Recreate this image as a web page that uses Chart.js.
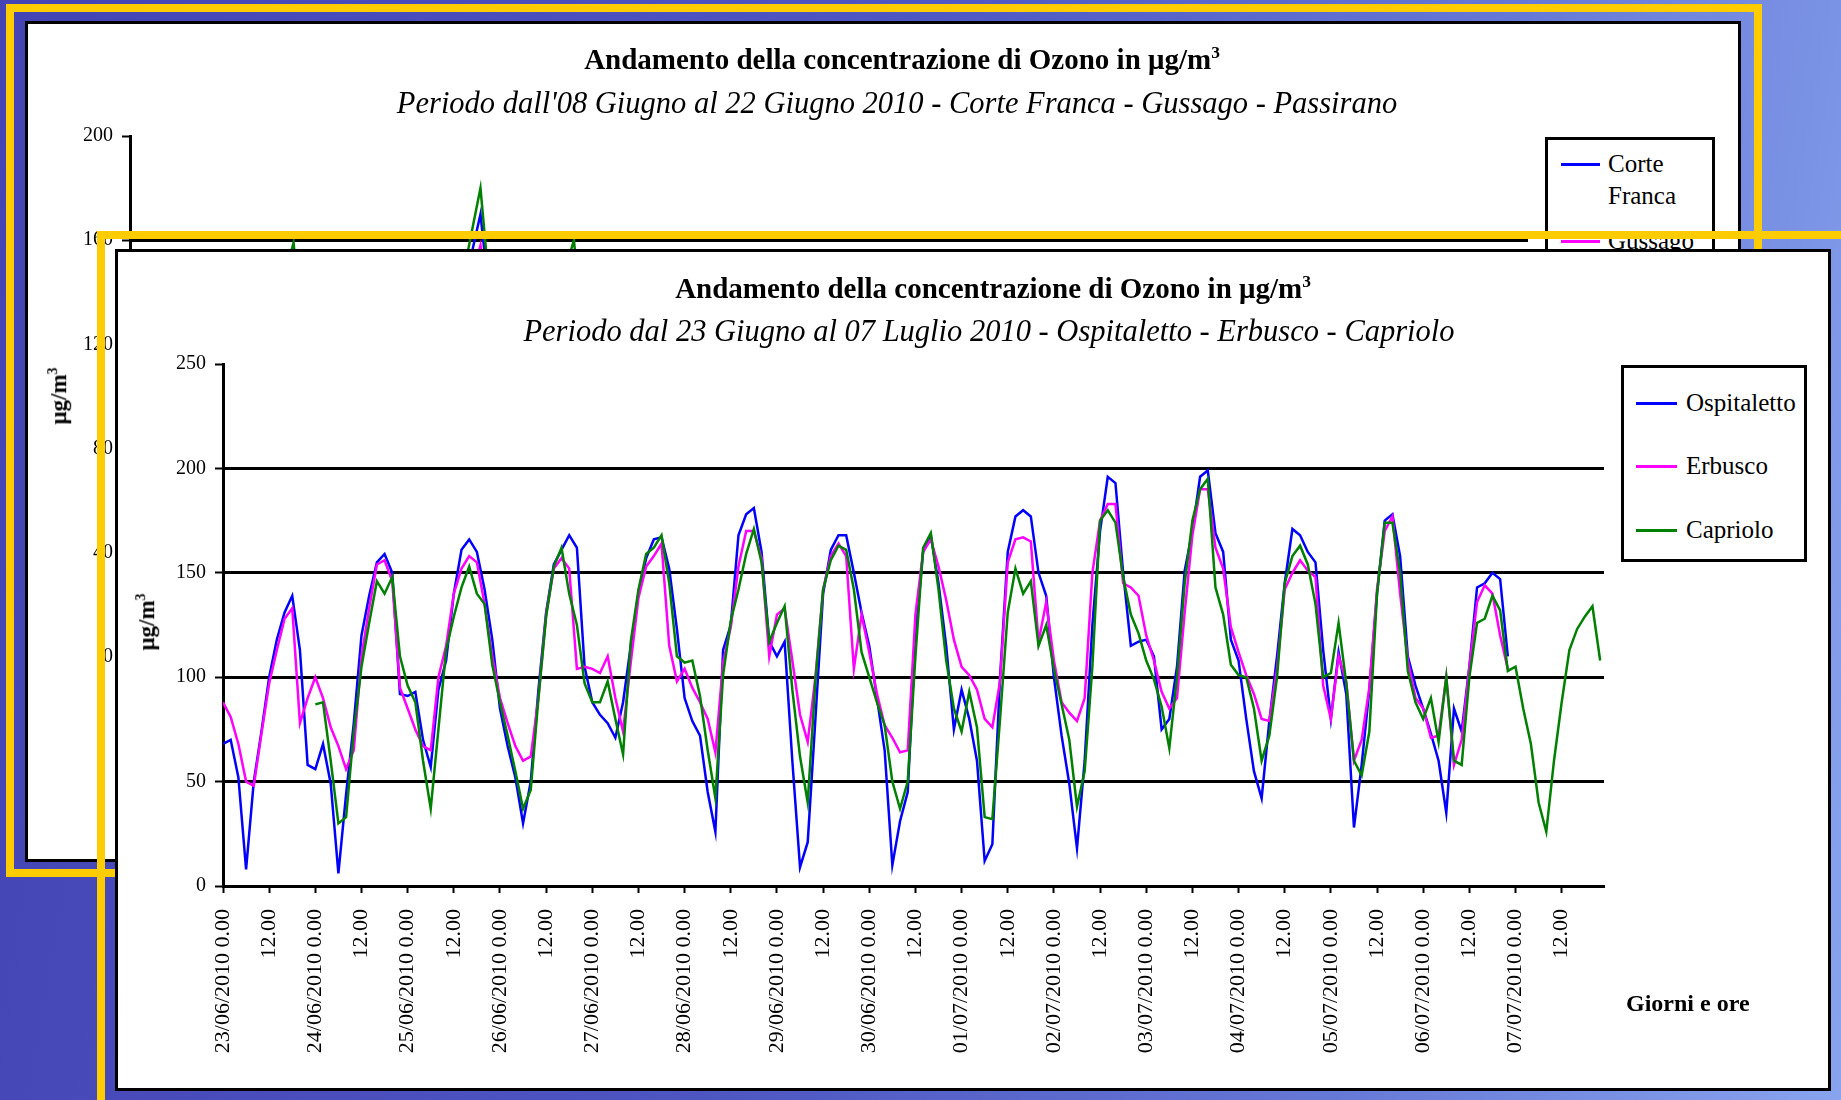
<!DOCTYPE html>
<html>
<head>
<meta charset="utf-8">
<title>Andamento della concentrazione di Ozono</title>
<script src="https://cdn.jsdelivr.net/npm/chart.js"></script>
<style>
  body {
    margin: 0; width: 1841px; height: 1100px; overflow: hidden; position: relative;
    background: linear-gradient(100deg, #4444b4 0%, #4e56c2 45%, #6678d6 75%, #88a4ee 100%);
    font-family: "Liberation Serif", "Times New Roman", serif; color: #000;
  }
  .frame { position: absolute; border: 8px solid #ffcc00; box-sizing: border-box; }
  .panel { position: absolute; background: #fff; border: 3px solid #000; box-sizing: border-box; }
  .title { position: absolute; width: 1400px; text-align: center; font-weight: bold; font-size: 29px; line-height: 1; white-space: nowrap; }
  .sub { position: absolute; width: 1400px; text-align: center; font-style: italic; font-size: 30.5px; line-height: 1; white-space: nowrap; }
  .ytitle { position: absolute; font-weight: bold; font-size: 23px; line-height: 1; white-space: nowrap;
            transform: translate(-50%, -50%) rotate(-90deg); }
  .legend { position: absolute; background: #fff; border: 3px solid #000; box-sizing: border-box; overflow: hidden; }
  .item { position: absolute; font-size: 25px; line-height: 32px; }
  .swatch { position: absolute; height: 3px; }
  canvas { position: absolute; }
  sup { font-size: 60%; }
</style>
</head>
<body>

<!-- grafico dietro: 08 - 22 giugno -->
<div class="frame" style="left:6px; top:4px; width:1756px; height:873px;"></div>
<div class="panel" style="left:25px; top:21px; width:1716px; height:841px;"></div>
<canvas id="backChart" width="1710" height="835" style="left:28px; top:24px;"></canvas>
<div class="title" style="left:202px; top:44px;">Andamento della concentrazione di Ozono in μg/m<sup>3</sup></div>
<div class="sub" style="left:197px; top:88px;">Periodo dall'08 Giugno al 22 Giugno 2010 - Corte Franca - Gussago - Passirano</div>
<div class="ytitle" style="left:58px; top:396px;">μg/m<sup>3</sup></div>
<div class="legend" id="backLegend" style="left:1545px; top:137px; width:170px; height:330px;"></div>

<!-- grafico davanti: 23 giugno - 07 luglio -->
<div class="frame" style="left:97px; top:231px; width:1800px; height:920px;"></div>
<div class="panel" style="left:115px; top:249px; width:1716px; height:842px;"></div>
<canvas id="frontChart" width="1710" height="836" style="left:118px; top:252px;"></canvas>
<div class="title" style="left:293px; top:273px;">Andamento della concentrazione di Ozono in μg/m<sup>3</sup></div>
<div class="sub" style="left:289px; top:316px;">Periodo dal 23 Giugno al 07 Luglio 2010 - Ospitaletto - Erbusco - Capriolo</div>
<div class="ytitle" style="left:146px; top:622px;">μg/m<sup>3</sup></div>
<div class="legend" id="frontLegend" style="left:1621px; top:365px; width:186px; height:197px;"></div>
<div style="position:absolute; left:1626px; top:990px; font-weight:bold; font-size:24px;">Giorni e ore</div>

<script>
// ---- dati: grafico davanti (valori ogni 2 ore, dalle 0.00 del 23/06) ----
const frontDays = ['23/06/2010', '24/06/2010', '25/06/2010', '26/06/2010', '27/06/2010',
                   '28/06/2010', '29/06/2010', '30/06/2010', '01/07/2010', '02/07/2010',
                   '03/07/2010', '04/07/2010', '05/07/2010', '06/07/2010', '07/07/2010'];
const stepHours = 2;

const ospitaletto = [
  68, 70, 52, 8, 50, 74, 100, 118, 131, 139, 113, 58,
  56, 68, 49, 6, 44, 78, 120, 139, 155, 159, 150, 92,
  91, 93, 70, 57, 94, 108, 140, 161, 166, 160, 142, 118,
  85, 67, 52, 30, 50, 94, 131, 154, 161, 168, 162, 105,
  88, 82, 78, 71, 88, 115, 140, 157, 166, 167, 152, 123,
  90, 79, 72, 45, 26, 113, 125, 168, 178, 181, 160, 117,
  110, 117, 60, 9, 21, 80, 140, 161, 168, 168, 150, 131,
  115, 90, 65, 10, 31, 45, 120, 160, 168, 145, 115, 75,
  94, 80, 60, 12, 20, 100, 160, 177, 180, 177, 150, 139,
  100, 72, 49, 18, 60, 125, 170, 196, 193, 150, 115, 117,
  118, 110, 75, 80, 105, 151, 170, 196, 199, 169, 160, 118,
  108, 80, 55, 42, 79, 110, 145, 171, 168, 160, 155, 113,
  80, 112, 92, 28, 58, 94, 140, 175, 178, 158, 110, 96,
  85, 73, 60, 35, 85, 74, 105, 143, 145, 150, 147, 110
];
const erbusco = [
  88, 81, 68, 50, 48, 73, 97, 113, 128, 133, 78, 90,
  100, 90, 76, 67, 56, 65, 110, 133, 154, 156, 146, 95,
  85, 75, 67, 65, 100, 115, 140, 152, 158, 155, 135, 110,
  90, 78, 67, 60, 62, 90, 130, 152, 157, 152, 104, 105,
  104, 102, 110, 90, 74, 107, 138, 153, 158, 164, 115, 98,
  104, 95, 88, 80, 64, 107, 124, 153, 170, 170, 157, 110,
  130, 133, 108, 82, 69, 100, 142, 158, 164, 158, 104, 130,
  112, 92, 77, 71, 64, 65, 130, 160, 166, 153, 137, 118,
  105, 101, 94, 80, 76, 98, 155, 166, 167, 165, 117, 136,
  108, 88, 83, 79, 90, 150, 175, 183, 183, 145, 143, 139,
  120, 108, 93, 85, 90, 131, 168, 190, 190, 162, 152, 124,
  112, 101, 92, 80, 79, 104, 142, 150, 156, 151, 148, 96,
  80, 110, 98, 60, 70, 95, 142, 170, 177, 140, 108, 90,
  85, 71, 72, 100, 58, 70, 105, 136, 144, 140, 120, 104
];
// Capriolo parte dalle 0.00 del 24/06
const capriolo = [
  87, 88, 60, 30, 33, 74, 105, 126, 146, 140, 148, 110,
  96, 88, 60, 37, 75, 113, 129, 143, 153, 140, 135, 106,
  88, 72, 55, 37, 46, 90, 129, 153, 162, 140, 125, 97,
  88, 88, 98, 80, 63, 117, 142, 159, 162, 168, 145, 110,
  107, 108, 91, 65, 42, 101, 127, 142, 159, 171, 155, 117,
  126, 134, 94, 62, 40, 98, 142, 156, 163, 161, 142, 112,
  100, 88, 77, 50, 37, 50, 110, 162, 169, 142, 108, 85,
  74, 93, 76, 33, 32, 80, 131, 152, 140, 146, 115, 125,
  104, 87, 70, 38, 55, 105, 175, 180, 174, 148, 130, 121,
  108, 99, 86, 66, 100, 145, 175, 190, 195, 143, 130, 106,
  101, 100, 85, 60, 72, 100, 145, 158, 163, 154, 135, 100,
  102, 126, 97, 60, 53, 74, 140, 174, 174, 150, 103, 88,
  80, 90, 69, 100, 60, 58, 100, 126, 128, 139, 132, 103,
  105, 85, 68, 40, 26, 60, 88, 113, 123, 129, 134, 108
];
const frontNames = ['Ospitaletto', 'Erbusco', 'Capriolo'];
const frontSeries = [ospitaletto, erbusco, capriolo];
const frontStart = [0, 0, 24];

// ---- dati: grafico dietro (valori ogni 6 ore, dalle 0.00 del 08/06) ----
const backDays = ['08/06/2010', '09/06/2010', '10/06/2010', '11/06/2010', '12/06/2010',
                  '13/06/2010', '14/06/2010', '15/06/2010', '16/06/2010', '17/06/2010',
                  '18/06/2010', '19/06/2010', '20/06/2010', '21/06/2010', '22/06/2010'];
const backStepHours = 6;
const corteFranca = [60, 40, 110, 130, 70, 35, 120, 140, 80, 45, 115, 135, 75, 40, 130, 170,
                     85, 50, 125, 145, 70, 35, 110, 140, 75, 40, 120, 145, 80, 45, 115, 135,
                     70, 30, 110, 140, 75, 40, 120, 145, 80, 45, 125, 140, 70, 35, 115, 135,
                     75, 40, 110, 140, 80, 45, 120, 145, 70, 35, 115, 135];
const gussago = [65, 45, 105, 125, 75, 40, 115, 135, 80, 50, 110, 130, 80, 45, 125, 158,
                 85, 55, 120, 140, 75, 40, 105, 135, 80, 45, 115, 140, 85, 50, 110, 130,
                 75, 35, 105, 135, 80, 45, 115, 140, 85, 50, 120, 135, 75, 40, 110, 130,
                 80, 45, 105, 135, 85, 50, 115, 140, 75, 40, 110, 130];
const passirano = [55, 35, 110, 135, 60, 30, 125, 159, 70, 40, 120, 145, 70, 35, 135, 180,
                   80, 45, 130, 160, 65, 30, 110, 145, 70, 35, 120, 148, 75, 40, 115, 140,
                   65, 25, 110, 145, 70, 35, 120, 148, 75, 40, 125, 145, 65, 30, 115, 140,
                   70, 35, 110, 145, 75, 40, 120, 148, 65, 30, 115, 140];
const backNames = ['Corte Franca', 'Gussago', 'Passirano'];
const backSeries = [corteFranca, gussago, passirano];

const colors = ['#0000ff', '#ff00ff', '#008000'];

Chart.defaults.font.family = '"Liberation Serif", "Times New Roman", serif';
Chart.defaults.color = '#000';

function toPoints(values, start, step) {
  return values.map((v, i) => ({ x: start + i * step, y: v }));
}

function buildChart(id, opts) {
  return new Chart(document.getElementById(id), {
    type: 'line',
    data: {
      datasets: opts.names.map((name, i) => ({
        label: name,
        data: toPoints(opts.series[i], opts.start[i], opts.step),
        borderColor: colors[i],
        backgroundColor: colors[i],
        borderWidth: 2.5,
        pointRadius: 0,
        tension: 0,
        fill: false,
        order: opts.names.length - i   // Capriolo/Passirano sopra
      }))
    },
    options: {
      responsive: false,
      animation: false,
      layout: { padding: { top: 112, right: opts.padRight, left: 0, bottom: 0 } },
      plugins: { legend: { display: false }, tooltip: { enabled: false } },
      scales: {
        x: {
          type: 'linear', min: 0, max: 359,
          afterFit: s => { s.height = 202; },
          grid: { drawOnChartArea: false, tickLength: 7, tickColor: '#000', tickWidth: 2 },
          border: { color: '#000', width: 3 },
          ticks: {
            stepSize: 12, includeBounds: false, autoSkip: false, maxTicksLimit: 40,
            maxRotation: 90, minRotation: 90, padding: 16, font: { size: 22 },
            callback: v => v % 24 === 0 ? opts.days[v / 24] + ' 0.00' : '12.00'
          }
        },
        y: {
          min: 0, max: opts.yMax,
          afterFit: s => { s.width = opts.yWidth; },
          grid: {
            color: c => (c.tick && c.tick.value === opts.yMax) ? 'rgba(0,0,0,0)' : '#000',
            lineWidth: 3, tickLength: 8, tickColor: '#000', tickWidth: 2
          },
          border: { color: '#000', width: 3 },
          ticks: { stepSize: opts.yStep, padding: 9, font: { size: 20 } }
        }
      }
    }
  });
}

function buildLegend(id, names, rows) {
  const box = document.getElementById(id);
  names.forEach((name, i) => {
    const line = document.createElement('div');
    line.className = 'swatch';
    line.style.cssText = `left:${rows.lineLeft}px; width:${rows.lineWidth}px; top:${rows.tops[i] + 15}px; background:${colors[i]};`;
    box.appendChild(line);
    const txt = document.createElement('div');
    txt.className = 'item';
    txt.style.cssText = `left:${rows.textLeft}px; top:${rows.tops[i]}px; width:${rows.textWidth}px;`;
    txt.textContent = name;
    box.appendChild(txt);
  });
}

buildChart('backChart', {
  names: backNames, series: backSeries, start: [0, 0, 0], step: backStepHours,
  days: backDays, yMax: 200, yStep: 40, yWidth: 102, padRight: 210
});
buildChart('frontChart', {
  names: frontNames, series: frontSeries, start: frontStart, step: stepHours,
  days: frontDays, yMax: 250, yStep: 50, yWidth: 105, padRight: 224
});

buildLegend('backLegend', backNames,
  { lineLeft: 13, lineWidth: 39, textLeft: 60, textWidth: 100, tops: [8, 85, 150] });
buildLegend('frontLegend', frontNames,
  { lineLeft: 12, lineWidth: 41, textLeft: 62, textWidth: 120, tops: [19, 82, 146] });
</script>
</body>
</html>
